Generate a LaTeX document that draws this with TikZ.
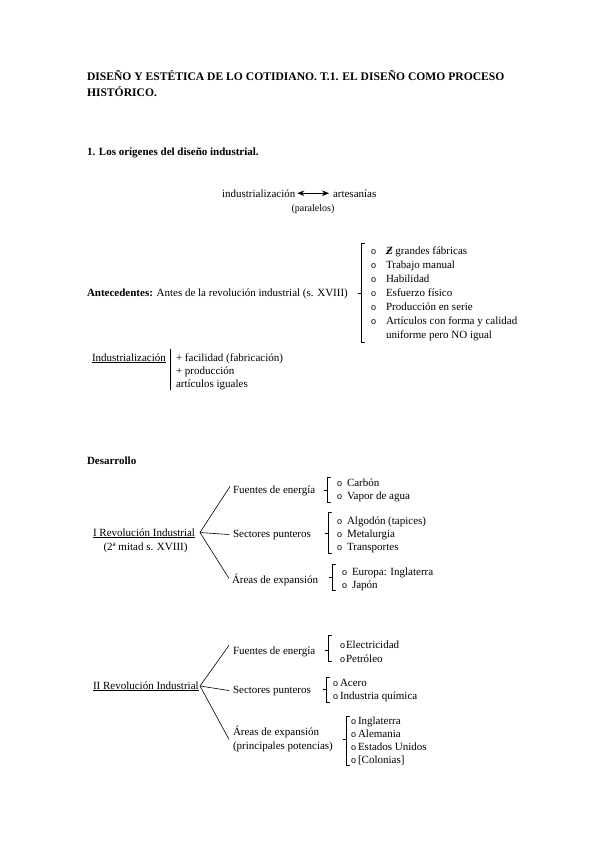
\documentclass[tikz,border=0pt]{standalone}
\usepackage{fontspec}
\setmainfont{Liberation Serif}
\newfontfamily\bulfont{Liberation Sans}
\usetikzlibrary{arrows.meta}
\newcommand\bl{{\bulfont\fontsize{9}{9}\selectfont o}}
\begin{document}
\begin{tikzpicture}[x=1pt,y=-1pt,
  every node/.style={inner sep=0pt, outer sep=0pt},
  txt/.style={anchor=base west, font=\fontsize{11}{13}\selectfont},
  hd/.style={anchor=base west, font=\fontsize{11}{13}\selectfont\bfseries},
  lst/.style={anchor=north west, font=\fontsize{11}{#1}\selectfont},
  lst/.default=13.5,
  brk/.style={line width=0.5pt, line cap=round},
  br/.style={line width=0.6pt}]
\useasboundingbox (0,0) rectangle (599,848);
\newcommand\bracket[4]{\draw[brk] (#1+3.5,#2) -- (#1,#2) -- (#1,#3) -- (#1+3.5,#3); \draw[brk] (#1,#4) -- (#1-3,#4);}

% titles
\node[hd, font=\fontsize{11.6}{13}\selectfont\bfseries] (t1) at (87,81) {DISEÑO Y ESTÉTICA DE LO COTIDIANO. T.1. EL DISEÑO COMO PROCESO};
\node[hd, font=\fontsize{11.6}{13}\selectfont\bfseries] (t2) at (87,97) {HISTÓRICO.};
\node[hd] (s1) at (87,155) {1. Los orígenes del diseño industrial.};

% industrializacion <-> artesanias
\node[txt] (ind) at (222,197) {industrialización};
\node[txt] (art) at (333,197) {artesanías};
\draw[line width=0.7pt, {Stealth[length=7pt,width=5.5pt]}-{Stealth[length=7pt,width=5.5pt]}, shorten <=2pt, shorten >=4pt] (ind.east) -- (art.west);
\node[anchor=base, font=\fontsize{10}{12}\selectfont] (par) at (313,211) {(paralelos)};

% Antecedentes
\node[txt] (ant) at (87,296) {\textbf{Antecedentes:} Antes de la revolución industrial (s. XVIII)};
\bracket{361}{243}{342}{293}
\node[lst=14] (antl) at (371,244.2) {\begin{tabular}{@{}p{15pt}@{}l@{}}
\bl & \textbf{\textit{Ƶ}} grandes fábricas\\
\bl & Trabajo manual\\
\bl & Habilidad\\
\bl & Esfuerzo físico\\
\bl & Producción en serie\\
\bl & Artículos con forma y calidad\\
 & uniforme pero NO igual
\end{tabular}};

% Industrializacion
\node[txt] (indz) at (92,361) {\underline{Industrialización}};
\draw[brk] (170,349) -- (170,390);
\node[lst=13] (indl) at (176,351.9) {\begin{tabular}{@{}l@{}}
+ facilidad (fabricación)\\
+ producción\\
artículos iguales
\end{tabular}};

% Desarrollo
\node[hd] (des) at (87,464) {Desarrollo};

% I Revolucion
\node[txt] (rev1) at (93,536) {\underline{I Revolución Industrial}};
\node[anchor=base, font=\fontsize{11}{13}\selectfont] (rev1b) at (145.5,550) {(2ª mitad s. XVIII)};
\coordinate (v1) at (200,532.5);
\node[txt] (f1) at (233,493) {Fuentes de energía};
\node[txt] (se1) at (233,537) {Sectores punteros};
\node[txt] (a1) at (232,583) {Áreas de expansión};
\draw[br] (v1) -- ([shift={(-3,-4)}]f1.west);
\draw[br] (v1) -- ([xshift=-4pt]se1.west);
\draw[br] (v1) -- ([shift={(-3,-1)}]a1.west);

\bracket{327}{477}{502}{490}
\node[lst=13.5] (f1l) at (337,477) {\begin{tabular}{@{}p{10pt}@{}l@{}}
\bl & Carbón\\
\bl & Vapor de agua
\end{tabular}};
\bracket{328}{512}{553}{533}
\node[lst=13] (se1l) at (337,515.4) {\begin{tabular}{@{}p{10pt}@{}l@{}}
\bl & Algodón (tapices)\\
\bl & Metalurgia\\
\bl & Transportes
\end{tabular}};
\bracket{332}{564}{590}{577}
\node[lst=13] (a1l) at (342,566.4) {\begin{tabular}{@{}p{10pt}@{}l@{}}
\bl & Europa: Inglaterra\\
\bl & Japón
\end{tabular}};

% II Revolucion
\node[txt] (rev2) at (93,689) {\underline{II Revolución Industrial}};
\coordinate (v2) at (200,686);
\node[txt] (f2) at (233,654) {Fuentes de energía};
\node[txt] (se2) at (233,693) {Sectores punteros};
\node[lst=14.5] (a2) at (233,724.9) {\begin{tabular}{@{}l@{}}
Áreas de expansión\\
(principales potencias)
\end{tabular}};
\draw[br] (v2) -- ([shift={(-4,-6)}]f2.west);
\draw[br] (v2) -- ([xshift=-4pt]se2.west);
\draw[br] (v2) -- ([xshift=-4pt]a2.west);

\bracket{328}{635}{661}{650}
\node[lst=14] (f2l) at (340,638.2) {\begin{tabular}{@{}p{6pt}@{}l@{}}
\bl & Electricidad\\
\bl & Petróleo
\end{tabular}};
\bracket{326}{677}{702}{689}
\node[lst=13] (se2l) at (333,676.9) {\begin{tabular}{@{}p{7pt}@{}l@{}}
\bl & Acero\\
\bl & Industria química
\end{tabular}};
\bracket{346}{716}{765}{739}
\node[lst=13] (a2l) at (351,714.9) {\begin{tabular}{@{}p{7pt}@{}l@{}}
\bl & Inglaterra\\
\bl & Alemania\\
\bl & Estados Unidos\\
\bl & [Colonias]
\end{tabular}};
\end{tikzpicture}
\end{document}
